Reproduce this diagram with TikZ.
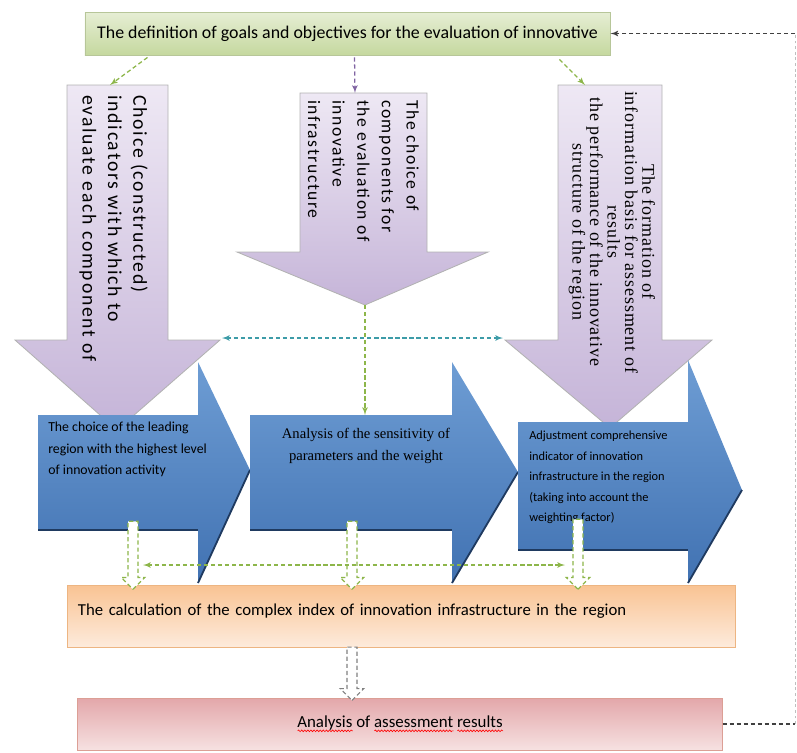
\documentclass[tikz,border=0pt]{standalone}
\usepackage{fontspec}
\setmainfont{Carlito}
\newfontfamily\serifface{Liberation Serif}
\newfontfamily\widesans[LetterSpace=9]{Carlito}
\newfontfamily\wideserif[LetterSpace=5]{Liberation Serif}
\usetikzlibrary{shapes.arrows, arrows, calc, decorations.pathmorphing}
\newsavebox\errbox
\newcommand\spellerr[1]{\sbox\errbox{#1}\rlap{\raisebox{-3pt}{\tikz\draw[red, line width=0.45pt, decorate,
    decoration={snake, amplitude=0.6pt, segment length=2.2pt}] (0pt,0pt) -- (\wd\errbox,0pt);}}\usebox\errbox}
\definecolor{lavtop}{HTML}{EEE8F4}
\definecolor{lavbot}{HTML}{C5B4D8}
\definecolor{bluetop}{HTML}{6E9DD4}
\definecolor{bluebot}{HTML}{4172B2}
\definecolor{blueedge}{HTML}{1F3A60}
\definecolor{goalstop}{HTML}{E6EED4}
\definecolor{goalsbot}{HTML}{C5D89F}
\definecolor{calctop}{HTML}{F9C393}
\definecolor{calcbot}{HTML}{FDEBDC}
\definecolor{assesstop}{HTML}{E3A7AA}
\definecolor{assessbot}{HTML}{F6E1E1}
\definecolor{dgreen}{HTML}{8DB64A}
\definecolor{cyanish}{HTML}{3D9CA8}
\definecolor{dviolet}{HTML}{8064A2}
\tikzstyle{downarrow} = [top color=lavtop, bottom color=lavbot, draw=gray!60, line width=0.6pt]
\tikzstyle{bluearrow} = [top color=bluetop, bottom color=bluebot]
\tikzstyle{edge} = [draw=blueedge, line width=1.3pt]
\tikzstyle{box} = [rectangle, draw, line width=0.6pt, inner sep=0pt]
\tikzstyle{line} = [draw, line width=0.9pt, dash pattern=on 3pt off 2pt, -latex']
\tikzstyle{hollow} = [single arrow, draw=dgreen, fill=white, line width=0.8pt,
    dash pattern=on 3pt off 2pt, rotate=-90, inner xsep=0pt, inner ysep=0.11cm,
    single arrow head extend=0.17cm, single arrow head indent=0cm]

\begin{document}
\begin{tikzpicture}[x=0.025cm, y=-0.025cm]
\useasboundingbox (0,0) rectangle (797,752);
% down arrows
\shadedraw[downarrow] (67,85) coordinate (choicetop) -- (168,85) -- (168,340) -- (220,340) coordinate (lhead)
    -- (117,430) -- (15,340) -- (67,340) -- cycle;
\shadedraw[downarrow] (300,93) -- (427,93) -- (427,252) -- (488,252) -- (365,305) coordinate (comptip)
    -- (237,252) -- (300,252) -- cycle;
\shadedraw[downarrow] (558,85) -- (662,85) -- (662,340) -- (712,340) -- (610,428) -- (505,340) coordinate (rhead)
    -- (558,340) -- cycle;
\node[anchor=north west, rotate=-90, align=left, inner sep=0pt,
    font=\widesans\fontsize{14}{18}\selectfont] (choiceind) at (148,95)
    {Choice (constructed)\\indicators with which to\\evaluate each component of};
\node[anchor=north west, rotate=-90, align=left, inner sep=0pt,
    font=\widesans\fontsize{12.5}{17.5}\selectfont] (choicecomp) at (419,100)
    {The choice of\\components for\\the evaluation of\\innovative\\infrastructure};
\node[rotate=-90, align=center, inner sep=0pt,
    font=\wideserif\fontsize{12.8}{12.4}\selectfont] (formation) at (612,232)
    {The formation of\\information basis for assessment of\\results\\the performance of the innovative\\structure of the region};
% blue arrows
\shade[bluearrow] (38,415) -- (198,415) -- (198,362) -- (250,470) -- (198,583) -- (198,530) -- (38,530) -- cycle;
\draw[edge] (38,530) -- (198,530);
\draw[edge] (198,583) -- (250,470);
\shade[bluearrow] (250,415) -- (452,415) -- (452,362) -- (518,472) -- (452,583) -- (452,530) -- (250,530) -- cycle;
\draw[edge] (250,530) -- (452,530);
\draw[edge] (452,583) -- (518,472);
\shade[bluearrow] (518,422) -- (688,422) -- (688,360) -- (742,490) -- (688,583) -- (688,550) -- (518,550) -- cycle;
\draw[edge] (518,550) -- (688,550);
\draw[edge] (688,583) -- (742,490);
\node[anchor=north west, align=left, inner sep=0pt, font=\fontsize{9.8}{15.3}\selectfont] (leading) at (48,422)
    {The choice of the leading\\region with the highest level\\of innovation activity};
\node[align=center, inner sep=0pt, font=\serifface\fontsize{10.4}{15.6}\selectfont] (sensit) at (366,446)
    {Analysis of the sensitivity of\\parameters and the weight};
\node[anchor=north west, align=left, inner sep=0pt, font=\fontsize{8.8}{14.5}\selectfont] (adjust) at (529,431)
    {Adjustment comprehensive\\indicator of innovation\\infrastructure in the region\\(taking into account the\\weighting factor)};
% boxes
\node[box, draw=calctop!80!brown, top color=calctop, bottom color=calcbot, minimum width=16.675cm,
    minimum height=1.55cm, inner xsep=0.25cm, text width=16.175cm, align=left, text depth=0.32cm,
    font=\fontsize{11.9}{13}\selectfont] (calc) at (401.5,616)
    {The calculation of the complex index of innovation infrastructure in the region};
\node[box, draw=assesstop!80!brown, top color=assesstop, bottom color=assessbot, minimum width=16.1cm,
    minimum height=1.3cm, font=\fontsize{12}{13}\selectfont] (assess) at (400,724)
    {\spellerr{Analysis} of \spellerr{assessment} \spellerr{results}};
\node[box, draw=goalsbot!80!gray, top color=goalstop, bottom color=goalsbot, minimum width=13.125cm,
    minimum height=1.075cm, font=\fontsize{12.7}{13}\selectfont] (goals) at (347.5,33.5)
    {The definition of goals and objectives for the evaluation of innovative};
% connectors
\coordinate (comptop) at (355,93);
\coordinate (formtop) at (585,85);
\coordinate (choiceto) at (110,85);
\coordinate (sensitop) at (365,415);
\path[line, draw=dgreen] ($(goals.south west)+(63,2)$) -- (choiceto);
\path[line, draw=dviolet] ($(goals.south west)+(270,2)$) -- (comptop);
\path[line, draw=dgreen] ($(goals.south west)+(475,4)$) -- (formtop);
\path[line, draw=cyanish, latex'-latex'] ($(lhead)+(2,-2)$) -- ($(rhead)+(-2,-2)$);
\path[line, draw=dgreen] (comptip) -- (sensitop);
\coordinate (leadout) at (133,521);
\coordinate (sensout) at (352,521);
\coordinate (adjout) at (578,519);
\coordinate (calcout) at (352,645);
\node[hollow, minimum height=1.7cm] (toCalcA) at ($(leadout)!0.5!(leadout |- calc.north)$) {};
\node[hollow, minimum height=1.7cm] (toCalcB) at ($(sensout)!0.5!(sensout |- calc.north)$) {};
\node[hollow, minimum height=1.75cm] (toCalcC) at ($(adjout)!0.5!(adjout |- calc.north)$) {};
\node[hollow, draw=gray, minimum height=1.33cm] (toAssess) at ($(calcout)!0.5!(calcout |- assess.north)$) {};
\coordinate (flowL) at (143,565);
\coordinate (flowR) at (565,565);
\path[line, draw=dgreen, latex'-latex'] (flowL) -- (flowR);
\coordinate (rim) at (795,0);
\draw[line width=0.9pt, dash pattern=on 3pt off 2pt, black!75] (assess.east) -- (assess.east -| rim);
\draw[line width=0.6pt, dash pattern=on 2pt off 2pt, black!25] (assess.east -| rim) -- (goals.east -| rim);
\path[line, draw=black!75] (goals.east -| rim) -- (goals.east);
\end{tikzpicture}
\end{document}
